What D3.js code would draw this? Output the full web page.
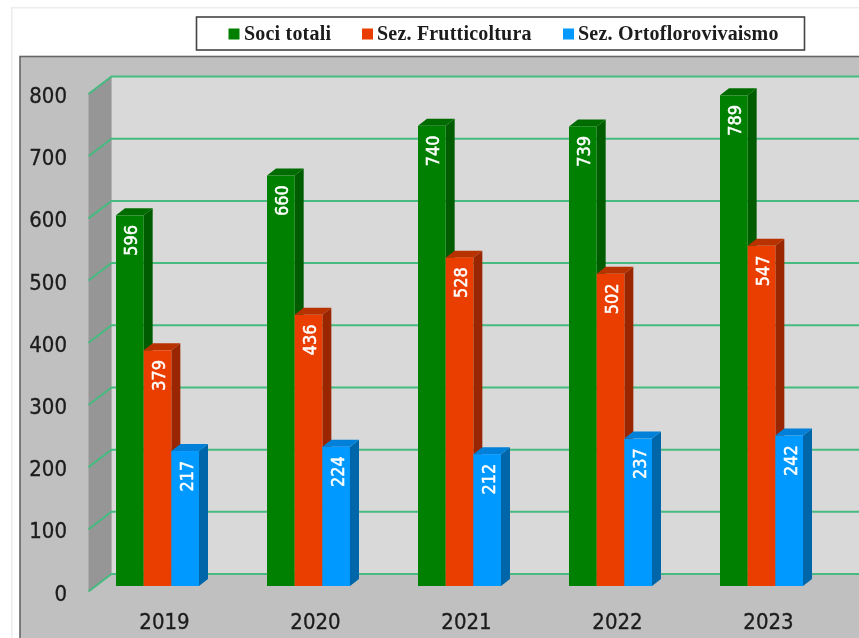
<!DOCTYPE html>
<html>
<head>
<meta charset="utf-8">
<script src="https://cdn.jsdelivr.net/npm/d3@7/dist/d3.min.js"></script>
<style>
  html, body { margin: 0; padding: 0; background: #fff; overflow: hidden; }
  svg { display: block; }
  .axis text { font-family: "DejaVu Sans", sans-serif; font-size: 22px; fill: #1c1c1c; stroke: #1c1c1c; stroke-width: 0.35px; }
  .axis path, .axis line { display: none; }
  .legend text { font-family: "Liberation Serif", serif; font-weight: bold; font-size: 20px; letter-spacing: 0.2px; fill: #1c1c1c; }
  .val { font-family: "DejaVu Sans", sans-serif; font-size: 17px; fill: #fff; stroke: #fff; stroke-width: 0.5px; text-anchor: middle; dominant-baseline: central; }
</style>
</head>
<body>
<script>
const years = ["2019", "2020", "2021", "2022", "2023"];
const sociTotali = [596, 660, 740, 739, 789];
const frutticoltura = [379, 436, 528, 502, 547];
const ortoflorovivaismo = [217, 224, 212, 237, 242];
const yTicks = [0, 100, 200, 300, 400, 500, 600, 700, 800];

const seriesNames = ["Soci totali", "Sez. Frutticoltura", "Sez. Ortoflorovivaismo"];
const seriesValues = [sociTotali, frutticoltura, ortoflorovivaismo];
const colors = [
  {front: "#008000", top: "#006c00", side: "#005c00"},
  {front: "#ea3c00", top: "#b83000", side: "#992600"},
  {front: "#0099ff", top: "#0080d8", side: "#0066aa"}
];

const width = 859, height = 638;
const wall = {dx: 23, dy: 17.5};   // depth of the side wall
const bar = {dx: 9, dy: 7};        // depth of a bar
const barLift = 5.5;               // bars stand a bit behind the front edge

const yScale = d3.scaleLinear().domain([0, 800]).range([591.5, 94]);
const xScale = d3.scaleBand().domain(years).range([82, 837]);
const groupWidth = 83;
const inner = d3.scaleBand().domain(d3.range(3)).range([0, groupWidth]);

const svg = d3.select("body").append("svg")
  .attr("width", width)
  .attr("height", height);

const defs = svg.append("defs");
defs.append("filter").attr("id", "soft")
  .attr("x", 0).attr("y", 0).attr("width", 1).attr("height", 1)
  .append("feGaussianBlur").attr("stdDeviation", 0.45);

const root = svg.append("g").attr("filter", "url(#soft)");

// page frame
root.append("rect")
  .attr("x", 11.5).attr("y", 7.5)
  .attr("width", 900).attr("height", 700)
  .attr("fill", "#fff").attr("stroke", "#ececec").attr("stroke-width", 2);

// outer panel
root.append("rect")
  .attr("x", 20).attr("y", 56.5)
  .attr("width", 900).attr("height", 700)
  .attr("fill", "#c0c0c0").attr("stroke", "#666").attr("stroke-width", 1.6);

// back wall
const wallX = 88.5;
root.append("rect")
  .attr("x", wallX + wall.dx)
  .attr("y", yScale(800) - wall.dy)
  .attr("width", width - wallX - wall.dx)
  .attr("height", yScale(0) - yScale(800))
  .attr("fill", "#d9d9d9");

// side wall
root.append("path")
  .attr("d", d3.line()([
    [wallX, yScale(800)],
    [wallX + wall.dx, yScale(800) - wall.dy],
    [wallX + wall.dx, yScale(0) - wall.dy],
    [wallX, yScale(0)]
  ]) + "Z")
  .attr("fill", "#969696");

// gridlines
root.append("g").selectAll("path")
  .data(yTicks)
  .join("path")
  .attr("fill", "none")
  .attr("stroke", "#45bb80")
  .attr("stroke-width", 2)
  .attr("d", (d) => d3.line()([
    [wallX, yScale(d)],
    [wallX + wall.dx, yScale(d) - wall.dy],
    [width, yScale(d) - wall.dy]
  ]));

// y axis
root.append("g")
  .attr("class", "axis")
  .attr("transform", "translate(67,1.5)")
  .call(d3.axisLeft(yScale).tickValues(yTicks).tickSize(0).tickPadding(0))
  .selectAll("text")
  .attr("transform", "scale(0.9,1)");

// x axis
root.append("g")
  .attr("class", "axis")
  .attr("transform", "translate(7,613)")
  .call(d3.axisBottom(xScale).tickSize(0).tickPadding(0))
  .selectAll("text")
  .attr("transform", "scale(0.9,1)");

// bars
years.forEach((year, i) => {
  const g = root.append("g");
  const left = xScale(year) + (xScale.bandwidth() - groupWidth) / 2;
  seriesValues.forEach((values, s) => {
    const x0 = left + inner(s), x1 = x0 + inner.bandwidth();
    const yTop = yScale(values[i]) - barLift, yBase = yScale(0) - barLift;
    const c = colors[s];

    g.append("path")
      .attr("d", d3.line()([[x1, yBase], [x1 + bar.dx, yBase - bar.dy], [x1 + bar.dx, yTop - bar.dy], [x1, yTop]]) + "Z")
      .attr("fill", c.side);
    g.append("path")
      .attr("d", d3.line()([[x0, yTop], [x0 + bar.dx, yTop - bar.dy], [x1 + bar.dx, yTop - bar.dy], [x1, yTop]]) + "Z")
      .attr("fill", c.top);
    g.append("rect")
      .attr("x", x0).attr("y", yTop)
      .attr("width", x1 - x0).attr("height", yBase - yTop)
      .attr("fill", c.front);
    g.append("text")
      .attr("class", "val")
      .attr("transform", "translate(" + (x0 + inner.bandwidth() / 2 + 2) + "," + (yTop + 25) + ") rotate(-90) scale(0.95,1)")
      .text(values[i]);
  });
});

// legend
const legend = root.append("g").attr("class", "legend");
legend.append("rect")
  .attr("x", 196.5).attr("y", 17)
  .attr("width", 608).attr("height", 33)
  .attr("fill", "#fff").attr("stroke", "#444").attr("stroke-width", 1.6);

const legendX = [228.5, 362, 563];
const legendTextX = [244, 377, 578];
seriesNames.forEach((name, s) => {
  legend.append("rect")
    .attr("x", legendX[s]).attr("y", 28.5)
    .attr("width", 11).attr("height", 11)
    .attr("fill", colors[s].front);
  legend.append("text")
    .attr("x", legendTextX[s])
    .attr("y", 39.5)
    .text(name);
});
</script>
</body>
</html>
